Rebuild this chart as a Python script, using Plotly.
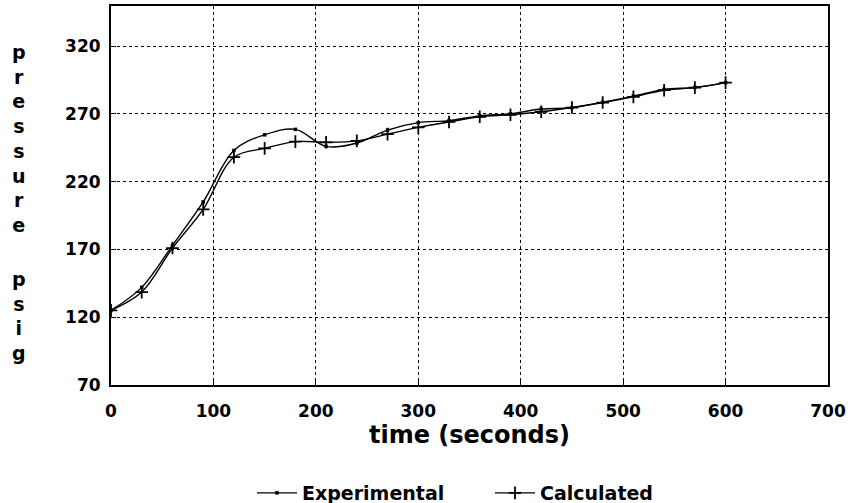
import plotly.graph_objects as go

time_s = [0, 30, 60, 90, 120, 150, 180, 210, 240, 270, 300, 330, 360, 390, 420, 450, 480, 510, 540, 570, 600]
experimental = [125, 142, 173, 205, 243, 254.5, 258.5, 246, 248.5, 258, 263.5, 265, 268.5, 270, 273.5, 274.5, 278.5, 283, 288, 289.5, 293]
calculated = [125, 138.5, 171, 199.5, 238, 244.5, 249.5, 249, 250, 255, 260, 264, 267.8, 269.3, 271.5, 274.6, 278.3, 282.5, 287.4, 289.3, 293]

x_ticks = [0, 100, 200, 300, 400, 500, 600, 700]
y_ticks = [70, 120, 170, 220, 270, 320]

FONT = "DejaVu Sans"

fig = go.Figure()
fig.add_trace(go.Scatter(
    x=time_s, y=experimental, name="Experimental",
    mode="lines+markers",
    line=dict(color="black", width=1.4, shape="spline", smoothing=1),
    marker=dict(symbol="square", size=3.5, color="black"),
))
fig.add_trace(go.Scatter(
    x=time_s, y=calculated, name="Calculated",
    mode="lines+markers",
    line=dict(color="black", width=1.4, shape="spline", smoothing=1),
    marker=dict(symbol="cross-thin", size=9, line=dict(color="black", width=1.8)),
))

axis_common = dict(
    showline=True, linecolor="black", linewidth=2, mirror=True,
    showgrid=True, gridcolor="black", griddash="dot", gridwidth=1,
    zeroline=False, ticks="inside", ticklen=5, tickcolor="black",
    automargin=False,
    tickfont=dict(family=FONT, size=17, color="black", weight="bold"),
)

fig.update_xaxes(range=[0, 700], tickvals=x_ticks, ticklabelstandoff=10, **axis_common,
                 title=dict(text="time (seconds)", font=dict(family=FONT, size=24, color="black", weight="bold"), standoff=0))
fig.update_yaxes(range=[70, 349.5], tickvals=y_ticks, ticklabelstandoff=5, **axis_common)

fig.add_annotation(text="<br>".join("pressure"), xref="paper", yref="paper",
                   x=-0.128, y=(385 - 138) / 379, xanchor="center", yanchor="middle",
                   showarrow=False, font=dict(family=FONT, size=19, color="black", weight="bold"))
fig.add_annotation(text="<br>".join("psig"), xref="paper", yref="paper",
                   x=-0.128, y=(385 - 316) / 379, xanchor="center", yanchor="middle",
                   showarrow=False, font=dict(family=FONT, size=19, color="black", weight="bold"))

fig.update_layout(
    width=851, height=503,
    margin=dict(l=111, r=23, t=6, b=118, autoexpand=False),
    paper_bgcolor="white", plot_bgcolor="white",
    showlegend=True,
    legend=dict(orientation="h", xref="container", yref="container",
                x=252 / 851, xanchor="left", y=(503 - 493) / 503, yanchor="middle",
                font=dict(family=FONT, size=19, color="black", weight="bold"),
                itemwidth=40, entrywidth=183, entrywidthmode="pixels", bgcolor="rgba(0,0,0,0)"),
)

fig.write_html("out.html")
